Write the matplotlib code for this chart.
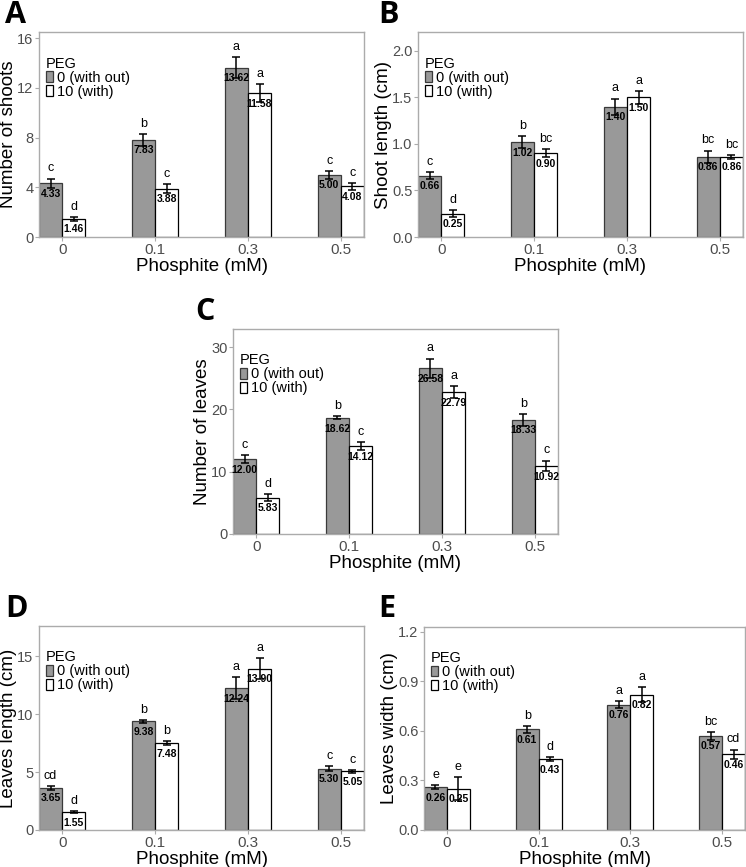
import matplotlib
matplotlib.use("Agg")
import matplotlib.pyplot as plt
from matplotlib.patches import Patch
import numpy as np

plt.rcParams['font.family'] = ['Liberation Sans', 'DejaVu Sans']

phosphite = ['0', '0.1', '0.3', '0.5']

# A - number of shoots
shoots_no = [4.33, 7.83, 13.62, 5.00]
shoots_no_se = [0.38, 0.48, 0.84, 0.31]
shoots_no_let = ['c', 'b', 'a', 'c']
shoots_peg = [1.46, 3.88, 11.58, 4.08]
shoots_peg_se = [0.13, 0.35, 0.70, 0.29]
shoots_peg_let = ['d', 'c', 'a', 'c']

# B - shoot length
slen_no = [0.66, 1.02, 1.40, 0.86]
slen_no_se = [0.04, 0.068, 0.086, 0.068]
slen_no_let = ['c', 'b', 'a', 'bc']
slen_peg = [0.25, 0.90, 1.50, 0.86]
slen_peg_se = [0.04, 0.043, 0.068, 0.02]
slen_peg_let = ['d', 'bc', 'a', 'bc']

# C - number of leaves
leaves_no = [12.00, 18.62, 26.58, 18.33]
leaves_no_se = [0.62, 0.24, 1.58, 0.96]
leaves_no_let = ['c', 'b', 'a', 'b']
leaves_peg = [5.83, 14.12, 22.79, 10.92]
leaves_peg_se = [0.54, 0.64, 0.94, 0.86]
leaves_peg_let = ['d', 'c', 'a', 'c']

# D - leaves length
llen_no = [3.65, 9.38, 12.24, 5.30]
llen_no_se = [0.17, 0.11, 0.96, 0.23]
llen_no_let = ['cd', 'b', 'a', 'c']
llen_peg = [1.55, 7.48, 13.90, 5.05]
llen_peg_se = [0.11, 0.16, 0.90, 0.13]
llen_peg_let = ['d', 'b', 'a', 'c']

# E - leaves width
lwid_no = [0.26, 0.61, 0.76, 0.57]
lwid_no_se = [0.013, 0.022, 0.019, 0.023]
lwid_no_let = ['e', 'b', 'a', 'bc']
lwid_peg = [0.25, 0.43, 0.82, 0.46]
lwid_peg_se = [0.07, 0.014, 0.045, 0.027]
lwid_peg_let = ['e', 'd', 'a', 'cd']

GREY = '#999999'
BORDER = '#ABABAB'
w = 0.25


def draw_panel(ax, m0, s0, l0, m1, s1, l1, ylabel, ylim, yticks, fmt):
    x = np.arange(len(phosphite))
    for xs, m, s, l, fc, ec in [(x - w / 2, m0, s0, l0, GREY, '#3a3a3a'),
                                (x + w / 2, m1, s1, l1, 'white', 'black')]:
        ax.bar(xs, m, width=w, color=fc, edgecolor=ec, linewidth=0.9, zorder=2)
        ax.errorbar(xs, m, yerr=s, fmt='none', ecolor='black', elinewidth=1.1,
                    capsize=3, capthick=1.1, zorder=3)
        for xi, mi, si, li in zip(xs, m, s, l):
            ax.annotate(li, (xi, mi + si), xytext=(0, 3), textcoords='offset points',
                        ha='center', va='bottom', fontsize=9, zorder=4)
            ax.annotate(f'{mi:.2f}', (xi, mi), xytext=(0, -4), textcoords='offset points',
                        ha='center', va='top', fontsize=7.5, fontweight='bold', zorder=4)
    ax.set_xlim(-0.25, 3.25)
    ax.set_ylim(*ylim)
    ax.set_xticks(x)
    ax.set_xticklabels(phosphite, fontsize=11)
    ax.set_yticks(yticks)
    ax.set_yticklabels([fmt.format(t) for t in yticks], fontsize=10.5)
    ax.tick_params(labelcolor='#4D4D4D', color=BORDER, length=3, pad=1)
    for sp in ax.spines.values():
        sp.set_color(BORDER)
        sp.set_linewidth(1.0)
    ax.set_xlabel('Phosphite (mM)', fontsize=13.5, labelpad=1)
    ax.set_ylabel(ylabel, fontsize=13.5, labelpad=0)
    handles = [Patch(facecolor=GREY, edgecolor='#3a3a3a', linewidth=0.9),
               Patch(facecolor='white', edgecolor='black', linewidth=0.9)]
    ax.legend(handles, ['0 (with out)', '10 (with)'], title='PEG',
              loc='upper left', bbox_to_anchor=(0.012, 0.895), frameon=False,
              fontsize=10.5, title_fontsize=10.5, handlelength=0.5,
              handleheight=0.75, handletextpad=0.25, labelspacing=0.0,
              borderpad=0.2, borderaxespad=0.0, alignment='left')


fig = plt.figure(figsize=(7.46, 8.67), dpi=100)
axA = fig.add_axes([0.0523, 0.7266, 0.4357, 0.2364])
axB = fig.add_axes([0.5603, 0.7266, 0.4357, 0.2364])
axC = fig.add_axes([0.3123, 0.3841, 0.4357, 0.2364])
axD = fig.add_axes([0.0523, 0.0427, 0.4357, 0.2353])
axE = fig.add_axes([0.5684, 0.0427, 0.4303, 0.2341])

draw_panel(axA, shoots_no, shoots_no_se, shoots_no_let, shoots_peg, shoots_peg_se,
           shoots_peg_let, 'Number of shoots', (0, 16.5), [0, 4, 8, 12, 16], '{:g}')
draw_panel(axB, slen_no, slen_no_se, slen_no_let, slen_peg, slen_peg_se,
           slen_peg_let, 'Shoot length (cm)', (0, 2.2), [0, 0.5, 1.0, 1.5, 2.0], '{:.1f}')
draw_panel(axC, leaves_no, leaves_no_se, leaves_no_let, leaves_peg, leaves_peg_se,
           leaves_peg_let, 'Number of leaves', (0, 32.9), [0, 10, 20, 30], '{:g}')
draw_panel(axD, llen_no, llen_no_se, llen_no_let, llen_peg, llen_peg_se,
           llen_peg_let, 'Leaves length (cm)', (0, 17.6), [0, 5, 10, 15], '{:g}')
draw_panel(axE, lwid_no, lwid_no_se, lwid_no_let, lwid_peg, lwid_peg_se,
           lwid_peg_let, 'Leaves width (cm)', (0, 1.23), [0, 0.3, 0.6, 0.9, 1.2], '{:.1f}')

for lab, px, py in [('A', 5, 0), ('B', 378, 0), ('C', 195, 297), ('D', 5, 594), ('E', 378, 594)]:
    fig.text(px / 746, 1 - py / 867, lab, fontsize=22, fontweight='bold',
             family=['Open Sans', 'DejaVu Sans'], ha='left', va='top')

fig.savefig('out.png', dpi=100)
